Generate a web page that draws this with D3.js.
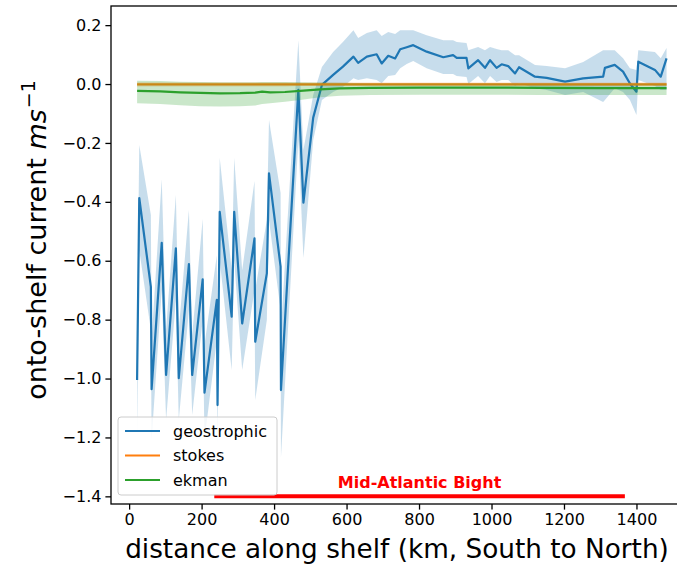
<!DOCTYPE html>
<html>
<head>
<meta charset="utf-8">
<script src="https://cdn.jsdelivr.net/npm/d3@7"></script>
<style>
body { margin: 0; background: #fff; }
svg { display: block; font-family: "DejaVu Sans", sans-serif; }
</style>
</head>
<body>
<main></main>
<script>
// geostrophic: distance (km), mean and band
var geoX = [22, 28, 60, 62, 90, 102, 129, 137, 165, 174, 203, 208, 242, 244, 250, 283, 290, 312, 346, 348,
    380, 386, 418, 419, 467, 481, 508, 532, 563, 590, 619, 632, 656, 683, 697, 715, 734, 748, 766, 784,
    821, 867, 894, 904, 931, 936, 963, 982, 996, 1014, 1028, 1046, 1065, 1076, 1120, 1152, 1203, 1253, 1308, 1313,
    1340, 1363, 1382, 1400, 1405, 1451, 1467, 1483];
var geoMean = [-1.005, -0.387, -0.689, -1.036, -0.539, -0.988, -0.558, -0.999, -0.611, -0.988, -0.663, -1.048, -0.733, -1.090, -0.434, -0.790, -0.434, -0.813, -0.524, -0.875,
    -0.643, -0.303, -0.620, -1.039, -0.020, -0.403, -0.114, -0.003, 0.031, 0.059, 0.093, 0.072, 0.093, 0.101, 0.070, 0.096, 0.087, 0.118, 0.125, 0.132,
    0.110, 0.091, 0.098, 0.089, 0.089, 0.053, 0.081, 0.055, 0.081, 0.055, 0.067, 0.061, 0.036, 0.057, 0.025, 0.021, 0.008, 0.019, 0.025, 0.055,
    0.065, 0.042, 0.002, -0.026, 0.076, 0.048, 0.025, 0.087];
var geoHi = [-0.835, -0.207, -0.445, -0.869, -0.323, -0.835, -0.377, -0.835, -0.428, -0.852, -0.458, -0.886, -0.581, -0.937, -0.251, -0.632, -0.251, -0.632, -0.329, -0.699,
    -0.462, -0.122, -0.370, -0.835, 0.149, -0.224, -0.037, 0.058, 0.109, 0.143, 0.183, 0.156, 0.173, 0.183, 0.163, 0.177, 0.170, 0.183, 0.183, 0.183,
    0.166, 0.149, 0.149, 0.143, 0.139, 0.115, 0.126, 0.115, 0.126, 0.119, 0.115, 0.115, 0.098, 0.098, 0.065, 0.061, 0.054, 0.075, 0.115, 0.115,
    0.115, 0.088, 0.054, 0.048, 0.115, 0.109, 0.088, 0.122];
var geoLo = [-1.209, -0.564, -0.835, -1.209, -0.699, -1.141, -0.733, -1.141, -0.767, -1.124, -0.801, -1.209, -0.869, -1.226, -0.598, -0.971, -0.598, -0.971, -0.699, -1.073,
    -0.801, -0.462, -0.767, -1.267, -0.190, -0.591, -0.190, -0.054, -0.027, -0.010, 0.020, 0.014, 0.020, 0.014, 0.003, 0.027, 0.031, 0.054, 0.068, 0.078,
    0.054, 0.034, 0.034, 0.027, 0.024, 0.000, 0.027, 0.003, 0.027, 0.007, 0.014, 0.014, -0.007, 0.003, -0.014, -0.020, -0.037, -0.027, -0.061, -0.054,
    -0.014, -0.027, -0.054, -0.105, 0.014, -0.007, -0.020, -0.020];

// stokes and ekman share a coarser distance list
var flatX = [22, 86, 141, 196, 251, 306, 348, 367, 389, 430, 472, 527, 582, 665, 803, 968, 1134, 1299, 1409, 1483];
var stokesMean = [-0.001, -0.001, -0.001, -0.001, -0.001, -0.001, -0.001, -0.001, -0.001, -0.001, -0.001, -0.001, -0.001, -0.001, -0.001, -0.001, -0.001, -0.001, -0.001, -0.001];
var stokesHi = [0.006, 0.006, 0.006, 0.006, 0.006, 0.006, 0.006, 0.006, 0.006, 0.006, 0.005, 0.005, 0.005, 0.005, 0.005, 0.005, 0.005, 0.005, 0.005, 0.005];
var stokesLo = [-0.008, -0.008, -0.008, -0.008, -0.008, -0.008, -0.008, -0.008, -0.008, -0.008, -0.007, -0.007, -0.007, -0.007, -0.007, -0.007, -0.007, -0.007, -0.007, -0.007];
var ekmanMean = [-0.023, -0.025, -0.028, -0.030, -0.032, -0.031, -0.029, -0.026, -0.028, -0.027, -0.023, -0.018, -0.015, -0.013, -0.012, -0.012, -0.013, -0.014, -0.014, -0.014];
var ekmanHi = [0.011, 0.010, 0.008, 0.007, 0.006, 0.006, 0.006, 0.007, 0.007, 0.007, 0.006, 0.005, 0.004, 0.003, 0.003, 0.003, 0.003, 0.003, 0.003, 0.003];
var ekmanLo = [-0.065, -0.068, -0.072, -0.075, -0.076, -0.075, -0.073, -0.068, -0.065, -0.060, -0.054, -0.045, -0.040, -0.037, -0.036, -0.036, -0.037, -0.037, -0.037, -0.037];

var xTicks = [0, 200, 400, 600, 800, 1000, 1200, 1400];
var yTicks = [0.2, 0.0, -0.2, -0.4, -0.6, -0.8, -1.0, -1.2, -1.4];
var seriesNames = ["geostrophic", "stokes", "ekman"];
var seriesColors = ["#1f77b4", "#ff7f0e", "#2ca02c"];
var bightSpan = [235, 1368];
var bightLevel = -1.4;
var bightLabel = "Mid-Atlantic Bight";

var width = 677;
var height = 567;
var plotLeft = 111, plotRight = 693, plotTop = 6, plotBottom = 504;

var svg = d3.select("main").append("svg")
    .attr("width", width)
    .attr("height", height);

var x = d3.scaleLinear().domain([-50, 1556]).range([plotLeft, plotRight]);
var y = d3.scaleLinear().domain([0.265, -1.426]).range([plotTop, plotBottom]);

svg.append("clipPath").attr("id", "plot")
  .append("rect")
    .attr("x", plotLeft).attr("y", plotTop)
    .attr("width", plotRight - plotLeft).attr("height", plotBottom - plotTop);

function rows(xs, mean, lo, hi) {
    return xs.map(function(d, i) { return {x: d, m: mean[i], lo: lo[i], hi: hi[i]}; });
}

var series = [
    rows(geoX, geoMean, geoLo, geoHi),
    rows(flatX, stokesMean, stokesLo, stokesHi),
    rows(flatX, ekmanMean, ekmanLo, ekmanHi)
];

var band = d3.area()
    .x(function(d) { return x(d.x); })
    .y0(function(d) { return y(d.lo); })
    .y1(function(d) { return y(d.hi); });

var line = d3.line()
    .x(function(d) { return x(d.x); })
    .y(function(d) { return y(d.m); });

var plot = svg.append("g").attr("clip-path", "url(#plot)");

series.forEach(function(s, i) {
    plot.append("path")
        .attr("d", band(s))
        .attr("fill", seriesColors[i])
        .attr("fill-opacity", 0.25)
        .attr("stroke", "none");
    plot.append("path")
        .attr("d", line(s))
        .attr("fill", "none")
        .attr("stroke", seriesColors[i])
        .attr("stroke-width", 2.2)
        .attr("stroke-linejoin", "round");
});

// red bar for the Mid-Atlantic Bight
plot.append("line")
    .attr("x1", x(bightSpan[0])).attr("x2", x(bightSpan[1]))
    .attr("y1", y(bightLevel)).attr("y2", y(bightLevel))
    .attr("stroke", "red")
    .attr("stroke-width", 4);

svg.append("text")
    .attr("x", x((bightSpan[0] + bightSpan[1]) / 2))
    .attr("y", y(bightLevel) - 8)
    .attr("text-anchor", "middle")
    .attr("fill", "red")
    .style("font-weight", "bold")
    .style("font-size", "16px")
    .text(bightLabel);

// axes
var xAxis = d3.axisBottom(x).tickValues(xTicks).tickSize(5.6).tickPadding(4).tickFormat(d3.format("d"));
var yAxis = d3.axisLeft(y).tickValues(yTicks).tickSize(5.6).tickPadding(4).tickFormat(d3.format(".1f"));

var gx = svg.append("g").attr("transform", "translate(0," + plotBottom + ")").call(xAxis);
var gy = svg.append("g").attr("transform", "translate(" + plotLeft + ",0)").call(yAxis);

[gx, gy].forEach(function(g) {
    g.select(".domain").remove();
    g.selectAll(".tick line").attr("stroke", "#000").attr("stroke-width", 1.3);
    g.selectAll(".tick text").attr("fill", "#000").style("font-size", "16px").style("font-family", "DejaVu Sans");
});

svg.append("rect")
    .attr("x", plotLeft).attr("y", plotTop)
    .attr("width", plotRight - plotLeft).attr("height", plotBottom - plotTop)
    .attr("fill", "none")
    .attr("stroke", "#000")
    .attr("stroke-width", 1.3);

svg.append("text")
    .attr("x", 397)
    .attr("y", 558)
    .attr("text-anchor", "middle")
    .style("font-size", "26.3px")
    .text("distance along shelf (km, South to North)");

var ylab = svg.append("text")
    .attr("transform", "translate(46,240) rotate(-90)")
    .attr("text-anchor", "middle")
    .style("font-size", "27px");
ylab.append("tspan").text("onto-shelf current ");
ylab.append("tspan").style("font-style", "italic").text("ms");
ylab.append("tspan").attr("dy", -11).attr("dx", 1).style("font-size", "19px").text("\u22121");

// legend
var legend = svg.append("g").attr("transform", "translate(118,417)");
legend.append("rect")
    .attr("width", 159).attr("height", 78)
    .attr("rx", 3)
    .attr("fill", "#fff").attr("fill-opacity", 0.8)
    .attr("stroke", "#ccc").attr("stroke-width", 1);

seriesNames.forEach(function(name, i) {
    var row = legend.append("g").attr("transform", "translate(0," + (14 + i * 24.5) + ")");
    row.append("line")
        .attr("x1", 7).attr("x2", 42)
        .attr("stroke", seriesColors[i]).attr("stroke-width", 2.2);
    row.append("text")
        .attr("x", 55).attr("y", 5.5)
        .style("font-size", "16px")
        .text(name);
});
</script>
</body>
</html>
